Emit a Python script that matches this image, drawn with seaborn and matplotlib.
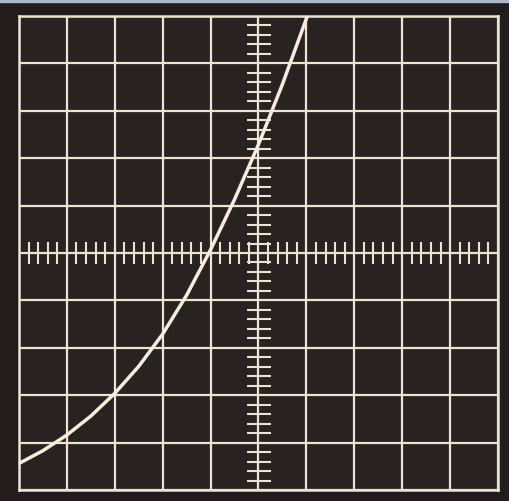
import numpy as np
import pandas as pd
import matplotlib
matplotlib.use("Agg")
import matplotlib.pyplot as plt
import seaborn as sns
from matplotlib.patches import Rectangle

# Trace (in graticule divisions, centre = 0)
trace_x = [-5.0, -4.5, -4.0, -3.5, -3.0, -2.5, -2.0, -1.5, -1.0, -0.5, 0.0, 0.5, 1.02]
trace_y = [-4.44, -4.17, -3.84, -3.44, -2.96, -2.39, -1.71, -0.89, 0.07, 1.13, 2.29, 3.56, 5.0]

# Graticule: 10 x 10 divisions, 5 subdivisions on the centre axes
major_ticks = list(range(-5, 6))
minor_ticks = [round(v * 0.2, 1) for v in range(-25, 26) if v % 5 != 0]

BG = "#282221"
LINE = "#ece3d4"
TRACE = "#f6ecdc"

sns.set_theme(style="white", rc={"axes.facecolor": BG, "figure.facecolor": "#221d1c"})

fig = plt.figure(figsize=(5.10, 5.02), dpi=100)
ax = fig.add_axes([19 / 510, 11 / 502, 479 / 510, 474 / 502])
ax.set_facecolor(BG)

df = pd.DataFrame({"x": trace_x, "y": trace_y})
sns.lineplot(data=df, x="x", y="y", ax=ax, color=TRACE, linewidth=2.5, sort=False,
             solid_capstyle="round", solid_joinstyle="round", zorder=5)

ax.set_xlim(-5, 5)
ax.set_ylim(-5, 5)
ax.set_xticks(major_ticks)
ax.set_yticks(major_ticks)
ax.grid(True, color=LINE, linewidth=1.6)
ax.tick_params(length=0, labelbottom=False, labelleft=False)
ax.set_xlabel("")
ax.set_ylabel("")
for sp in ax.spines.values():
    sp.set_visible(True)
    sp.set_color(LINE)
    sp.set_linewidth(1.8)

# Centre axes with subdivision marks
sx = ax.secondary_xaxis(0.5)
sx.set_xticks(minor_ticks)
sx.tick_params(direction="inout", length=16, width=1.5, color=LINE, labelbottom=False, labeltop=False)
sx.spines["bottom"].set_color(LINE)
sx.spines["bottom"].set_linewidth(1.6)
sx.spines["top"].set_visible(False)

sy = ax.secondary_yaxis(0.5)
sy.set_yticks(minor_ticks)
sy.tick_params(direction="inout", length=17, width=1.5, color=LINE, labelleft=False, labelright=False)
sy.spines["left"].set_color(LINE)
sy.spines["left"].set_linewidth(1.6)
sy.spines["right"].set_visible(False)

# Light edge of the photo at the top
fig.patches.append(Rectangle((0, 1 - 3 / 502), 1, 3 / 502, transform=fig.transFigure,
                             color="#aeb8c4", zorder=0))

fig.savefig("out.png", dpi=100, facecolor=fig.get_facecolor())
